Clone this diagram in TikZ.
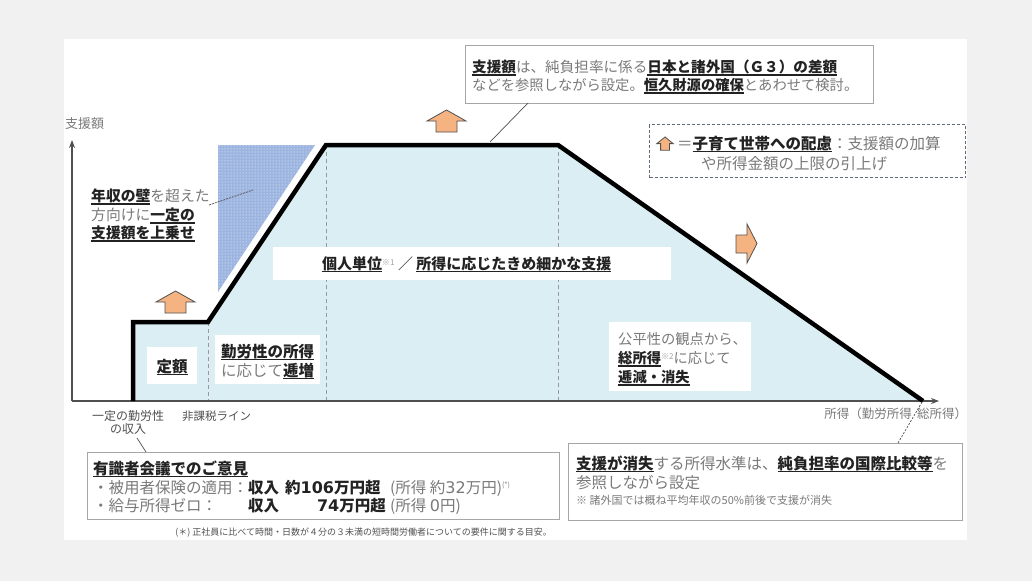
\documentclass[tikz,border=0pt]{standalone}
\usepackage{fontspec}
\setmainfont{Noto Sans CJK JP}
\newfontfamily\dvs{DejaVu Sans}
\usetikzlibrary{arrows.meta,patterns}
\definecolor{bggray}{HTML}{F1F1F1}
\definecolor{lblue}{HTML}{DAEEF3}
\definecolor{triblue}{HTML}{9CB4E0}
\definecolor{gtx}{HTML}{7A7A7A}
\definecolor{dtx}{HTML}{222222}
\definecolor{ltx}{HTML}{A0A0A0}
\definecolor{axisc}{HTML}{505050}
\definecolor{boxc}{HTML}{A6A6A6}
\definecolor{legc}{HTML}{5F6B7A}
\definecolor{orng}{HTML}{F6B382}
\newcommand\ubf[1]{{\color{dtx}\setbox0\hbox{\bfseries #1}\rlap{\rule[-3pt]{\wd0}{1.1pt}}\box0}}
\newcommand\bk[1]{{\color{dtx}\bfseries #1}}
\newcommand\fsz[1]{\fontsize{#1}{#1}\selectfont}
\newcommand\smark[1]{{\color{ltx}\fsz{8}\raisebox{4pt}{#1}}}
\newcommand\dg[1]{{\dvs\fontsize{16}{16}\selectfont #1}}
\begin{document}
\begin{tikzpicture}[x=1pt,y=-1pt,
  txt/.style={inner sep=0pt, text=gtx, anchor=base west},
  wbox/.style={fill=white, draw=none, inner sep=0pt, anchor=north west},
  gbox/.style={fill=white, draw=boxc, line width=1.2pt, inner sep=0pt, anchor=north west},
  vdash/.style={draw=gray!80, line width=1pt, dash pattern=on 4pt off 3pt},
  arrowsty/.style={fill=orng, draw=axisc, line width=0.8pt, line join=miter},
  uparr/.pic={\draw[arrowsty] (0,0) -- (19.5,11) -- (10.5,11) -- (10.5,22) -- (-10.5,22) -- (-10.5,11) -- (-19.5,11) -- cycle;},
  leader/.style={draw=axisc, line width=0.7pt}
]
\useasboundingbox (0,0) rectangle (1032,581);
\fill[bggray] (0,0) rectangle (1032,581);
\fill[white] (64,39) rectangle (967,540);

% curve points
\coordinate (c0) at (133,401);
\coordinate (c1) at (133,322);
\coordinate (c2) at (208,322);
\coordinate (c3) at (326,145);
\coordinate (c4) at (558,145);
\coordinate (c5) at (923,401);

% hatched triangle
\fill[triblue] (218,145) -- (315,145) -- (218,292) -- cycle;
\fill[pattern=dots, pattern color=white] (218,145) -- (315,145) -- (218,292) -- cycle;

% white halo then fill
\draw[white, line width=9pt, line join=miter] (c0) -- (c1) -- (c2) -- (c3) -- (c4) -- (c5);
\fill[lblue] (c0) -- (c1) -- (c2) -- (c3) -- (c4) -- (c5) -- cycle;

% dashed verticals
\draw[vdash] (c2) -- (208,401);
\draw[vdash] (c3) -- (326,401);
\draw[vdash] (c4) -- (558,401);

% axes
\coordinate (origin) at (72,401);
\coordinate (ytip) at (72,140);
\coordinate (xtip) at (939,401);
\draw[axisc, line width=1.5pt, -{Stealth[length=8pt,width=6pt]}] (origin) -- (ytip);
\draw[axisc, line width=1.5pt, -{Stealth[length=8pt,width=6pt]}] (origin) -- (xtip);

% curve
\draw[black, line width=4.5pt, line join=miter] (c0) -- (c1) -- (c2) -- (c3) -- (c4) -- (c5);

% white label boxes
\node[wbox, minimum width=398pt, minimum height=33pt] (centbox) at (273,247) {};
\node[wbox, minimum width=50pt, minimum height=37pt] (teibox) at (147,347) {};
\node[wbox, minimum width=105pt, minimum height=49pt] (kinbox) at (215,335) {};
\node[wbox, minimum width=142pt, minimum height=69pt] (kouhbox) at (609,322) {};

\node[txt] (centtxt) at (322,269) {\fsz{15}\ubf{個人単位}\smark{※1} {\color{dtx}／} \ubf{所得に応じたきめ細かな支援}};
\node[txt, anchor=base] (teitxt) at (172,372) {\fsz{15.5}\ubf{定額}};
\node[txt, anchor=base] (kin1) at (267.5,357) {\fsz{15.5}\ubf{勤労性の所得}};
\node[txt, anchor=base] (kin2) at (267.5,376) {\fsz{15.5}に応じて\ubf{逓増}};
\node[txt] (kou1) at (618,344.5) {\fsz{14.3}公平性の観点から、};
\node[txt] (kou2) at (618,363.5) {\fsz{14.3}\ubf{総所得}\smark{※2}に応じて};
\node[txt] (kou3) at (618,382.5) {\fsz{14.3}\ubf{逓減・消失}};

% left text
\node[txt] (lt1) at (91,201.5) {\fsz{14.8}\ubf{年収の壁}を超えた};
\node[txt] (lt2) at (91,220.5) {\fsz{14.8}方向けに\ubf{一定の}};
\node[txt] (lt3) at (91,238.5) {\fsz{14.8}\ubf{支援額を上乗せ}};
\coordinate (ltA) at (209,205);
\coordinate (ltB) at (253,190);
\draw[leader, dash pattern=on 2pt off 1pt] (ltA) -- (ltB);

% top box
\node[gbox, minimum width=408pt, minimum height=58pt] (topbox) at (465,45) {};
\node[txt] (top1) at (472,72.5) {\fsz{14.6}\ubf{支援額}は、純負担率に係る\ubf{日本と諸外国（Ｇ３）の差額}};
\node[txt] (top2) at (472,90.5) {\fsz{14.3}などを参照しながら設定。\ubf{恒久財源の確保}とあわせて検討。};
\coordinate (tbA) at (528,103);
\coordinate (tbB) at (490,142);
\draw[leader] (tbA) -- (tbB);

% orange arrows
\pic at (446.5,110) {uparr};
\pic at (175.5,291) {uparr};
\draw[arrowsty] (736,235) -- (747,235) -- (747,224) -- (757,243.5) -- (747,263) -- (747,253) -- (736,253) -- cycle;

% legend
\node[draw=legc, line width=1.2pt, dash pattern=on 3pt off 2pt, fill=white, inner sep=0pt, anchor=north west, minimum width=316pt, minimum height=53pt] (legbox) at (649,124) {};
\pic[xscale=0.42, yscale=0.6] at (665,137) {uparr};
\node[txt] (leg1) at (677,149) {\fsz{15.5}＝\ubf{子育て世帯への配慮}：支援額の加算};
\node[txt] (leg2) at (701,169) {\fsz{15.5}や所得金額の上限の引上げ};

% axis labels
\node[txt] (ylab) at (65,128) {\fsz{13}支援額};
\node[txt, anchor=base, text=axisc] (ax1) at (128,420.5) {\fsz{12}一定の勤労性};
\node[txt, anchor=base, text=axisc] (ax2) at (128,433.5) {\fsz{12}の収入};
\node[txt, text=axisc] (ax3) at (182,420.5) {\fsz{11.5}非課税ライン};
\node[txt, anchor=base east] (xlab1) at (912,418.5) {\fsz{12.5}所得（勤労所得};
\node[txt] (xlab2) at (917,418.5) {\fsz{12.5}総所得）};

% bottom left box
\node[gbox, minimum width=472pt, minimum height=67pt] (blbox) at (87,452) {};
\node[txt] (bl1) at (93,474) {\fsz{15.5}\ubf{有識者会議でのご意見}};
\node[txt] (bl2a) at (93,493) {\fsz{15.5}・被用者保険の適用：};
\node[txt] (bl2b) at (248,493) {\fsz{15.5}\bk{収入}};
\node[txt] (bl2c) at (285,493) {\fsz{15.5}\bk{約\dg{106}万円超}};
\node[txt] (bl2d) at (390,493) {\fsz{15.5}(所得 約\dg{32}万円)\raisebox{6pt}{\fsz{7}(*)}};
\node[txt] (bl3a) at (93,511) {\fsz{15.5}・給与所得ゼロ：};
\node[txt] (bl3b) at (248,511) {\fsz{15.5}\bk{収入}};
\node[txt, anchor=base east] (bl3c) at (386,511) {\fsz{15.5}\bk{\dg{74}万円超}};
\node[txt] (bl3d) at (390,511) {\fsz{15.5}(所得 \dg{0}円)};
\node[txt, anchor=base east, text=axisc] (foot) at (552,535.5) {\fsz{9}(＊) 正社員に比べて時間・日数が４分の３未満の短時間労働者についての要件に関する目安。};
\coordinate (ax2b) at (137,438);
\draw[leader] (ax2b) -- (blbox.north west -| 146,452);

% bottom right box
\node[gbox, minimum width=394pt, minimum height=77pt] (brbox) at (568,443) {};
\node[txt] (br1) at (576,469) {\fsz{15.5}\ubf{支援が消失}する所得水準は、\ubf{純負担率の国際比較等}を};
\node[txt] (br2) at (576,488) {\fsz{15.5}参照しながら設定};
\node[txt] (br3) at (576,504) {\fsz{11}※ 諸外国では概ね平均年収の50\%前後で支援が消失};
\coordinate (xe) at (922,402);
\draw[leader, dash pattern=on 2pt off 1.5pt] (xe) -- (brbox.north west -| 898,443);
\end{tikzpicture}
\end{document}
